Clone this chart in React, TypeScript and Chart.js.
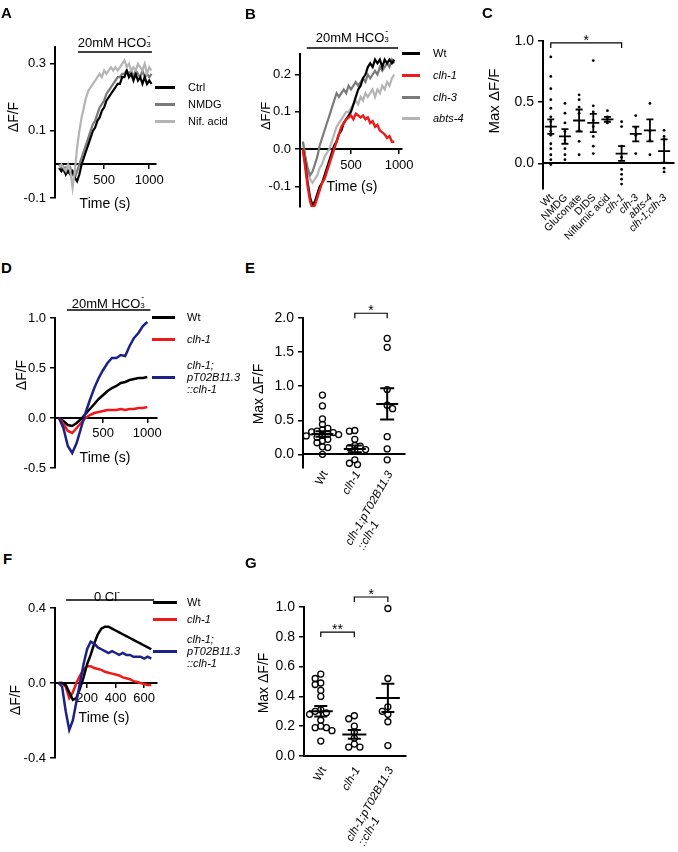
import React, { useEffect, useRef } from 'react';
import { Chart, registerables } from 'chart.js';

Chart.register(...registerables);

const FONT = '"Liberation Sans", Arial, Helvetica, sans-serif';
Chart.defaults.font.family = FONT;
Chart.defaults.color = '#000';

// ---------------- DATA ----------------
// Panel A
const aTime = [0,25,50,75,100,125,150,175,200,225,250,275,300,325,350,375,400,425,450,475,500,525,550,575,600,625,650,675,700,725,750,775,800,825,850,875,900,925,950,975,1000,1025];
const aCtrl = [-0.01,-0.02,-0.01,-0.03,-0.02,-0.03,-0.02,-0.04,-0.05,-0.03,0.0,0.02,0.04,0.06,0.08,0.10,0.11,0.13,0.14,0.16,0.17,0.19,0.20,0.21,0.22,0.23,0.24,0.24,0.26,0.26,0.28,0.26,0.27,0.25,0.27,0.25,0.26,0.24,0.26,0.24,0.25,0.24];
const aNmdg = [0.0,-0.01,-0.02,-0.01,-0.02,-0.01,-0.03,-0.04,-0.02,0.0,0.02,0.04,0.06,0.08,0.10,0.12,0.13,0.15,0.17,0.18,0.19,0.21,0.22,0.23,0.24,0.25,0.26,0.26,0.27,0.27,0.28,0.27,0.28,0.26,0.28,0.27,0.26,0.28,0.26,0.27,0.26,0.27];
const aNif = [-0.01,0.0,-0.01,-0.02,0.0,-0.02,-0.07,-0.02,0.05,0.10,0.14,0.17,0.20,0.22,0.23,0.24,0.25,0.26,0.27,0.26,0.28,0.27,0.28,0.29,0.28,0.29,0.28,0.29,0.30,0.31,0.29,0.30,0.28,0.29,0.28,0.30,0.29,0.28,0.30,0.27,0.29,0.28];
const aStim = [210, 1030];
const aYTicks = [-0.1, 0.1, 0.3];
const aXTicks = [500, 1000];

// Panel B
const bTime = [0,25,50,75,100,125,150,175,200,225,250,275,300,325,350,375,400,425,450,475,500,525,550,575,600,625,650,675,700,725,750,775,800,825,850,875,900,925,950];
const bWt = [0.0,-0.04,-0.09,-0.13,-0.15,-0.14,-0.12,-0.10,-0.09,-0.07,-0.05,-0.03,-0.01,0.01,0.02,0.04,0.05,0.07,0.08,0.09,0.10,0.12,0.14,0.16,0.17,0.19,0.20,0.22,0.23,0.22,0.24,0.23,0.24,0.22,0.24,0.23,0.24,0.23,0.24];
const bClh1 = [0.0,-0.05,-0.10,-0.14,-0.16,-0.15,-0.13,-0.11,-0.09,-0.08,-0.06,-0.04,-0.02,0.0,0.02,0.04,0.06,0.07,0.08,0.085,0.09,0.08,0.095,0.09,0.085,0.09,0.08,0.085,0.07,0.075,0.06,0.065,0.05,0.045,0.04,0.03,0.035,0.02,0.02];
const bClh3 = [0.02,-0.02,-0.05,-0.07,-0.06,-0.04,-0.02,0.01,0.03,0.05,0.07,0.09,0.11,0.13,0.15,0.14,0.15,0.16,0.15,0.17,0.16,0.17,0.18,0.17,0.18,0.19,0.18,0.20,0.19,0.20,0.21,0.20,0.22,0.21,0.22,0.23,0.22,0.24,0.23];
const bAbts4 = [0.02,-0.02,-0.06,-0.08,-0.09,-0.08,-0.07,-0.05,-0.04,-0.02,-0.01,0.0,0.02,0.04,0.06,0.07,0.08,0.09,0.10,0.10,0.11,0.12,0.13,0.12,0.14,0.13,0.15,0.14,0.15,0.16,0.14,0.16,0.15,0.17,0.16,0.18,0.17,0.19,0.20];
const bStim = [40, 990];
const bYTicks = [-0.1, 0.0, 0.1, 0.2];
const bXTicks = [500, 1000];

// Panel C
const cCategories = ['Wt', 'NMDG', 'Gluconate', 'DIDS', 'Niflumic acid', 'clh-1', 'clh-3', 'abts-4', 'clh-1;clh-3'];
const cItalic = [false, false, false, false, false, true, true, true, true];
const cWt = [0.87,0.71,0.61,0.52,0.45,0.38,0.34,0.30,0.26,0.23,0.16,0.12,0.07,0.03,-0.01];
const cNmdg = [0.49,0.41,0.33,0.26,0.19,0.12,0.07,0.03];
const cGluconate = [0.56,0.52,0.46,0.41,0.27,0.18,0.07];
const cDids = [0.84,0.47,0.42,0.35,0.30,0.22,0.14,0.08];
const cNiflumic = [0.43,0.38,0.36,0.33];
const cClh1 = [0.34,0.30,0.14,0.05,-0.05,-0.09,-0.13,-0.17];
const cClh3 = [0.39,0.29,0.23,0.08];
const cAbts4 = [0.49,0.26,0.19,0.07];
const cClh1Clh3 = [0.27,0.22,0.20,-0.04,-0.07];
const cMeans = [0.30,0.22,0.35,0.33,0.36,0.08,0.24,0.27,0.10];
const cSem = [0.06,0.06,0.09,0.075,0.02,0.06,0.06,0.09,0.095];
const cYTicks = [0.0, 0.5, 1.0];

// Panel D
const dTime = [0,50,100,150,200,250,300,350,400,450,500,550,600,650,700,750,800,850,900,950,1000];
const dWt = [0.0,-0.03,-0.07,-0.08,-0.05,-0.01,0.04,0.09,0.14,0.19,0.23,0.27,0.30,0.32,0.35,0.36,0.38,0.39,0.40,0.40,0.41];
const dClh1 = [0.0,-0.06,-0.13,-0.15,-0.10,-0.05,0.0,0.03,0.05,0.06,0.07,0.08,0.08,0.08,0.09,0.08,0.09,0.09,0.10,0.10,0.11];
const dRescue = [0.0,-0.10,-0.28,-0.35,-0.25,-0.10,0.05,0.18,0.30,0.40,0.48,0.55,0.60,0.60,0.63,0.62,0.72,0.80,0.85,0.92,0.96];
const dStim = [90, 1035];
const dYTicks = [-0.5, 0.0, 0.5, 1.0];
const dXTicks = [500, 1000];

// Panel E
const eCategories = [['Wt'], ['clh-1'], ['clh-1;pT02B11.3', '::clh-1']];
const eItalic = [false, true, true];
const eWt = [0.87,0.71,0.52,0.44,0.38,0.36,0.34,0.33,0.32,0.30,0.29,0.28,0.27,0.25,0.22,0.20,0.17,0.11,0.10,0.0];
const eClh1 = [0.35,0.34,0.22,0.13,0.12,0.10,0.07,0.05,-0.08,-0.13,-0.15];
const eRescue = [1.70,1.57,0.95,0.72,0.67,0.26,0.08,-0.08];
const eMeans = [0.30, 0.08, 0.74];
const eSem = [0.04, 0.05, 0.23];
const eYTicks = [0.0, 0.5, 1.0, 1.5, 2.0];

// Panel F
const fTime = [0,25,50,75,100,125,150,175,200,225,250,275,300,325,350,375,400,425,450,475,500,525,550,575,600,625,650];
const fWt = [0.0,0.0,-0.01,-0.05,-0.09,-0.08,-0.03,0.03,0.10,0.15,0.21,0.26,0.29,0.30,0.30,0.29,0.28,0.27,0.26,0.25,0.24,0.23,0.22,0.21,0.20,0.19,0.18];
const fClh1 = [0.0,0.0,-0.02,-0.08,-0.05,0.0,0.04,0.07,0.09,0.09,0.08,0.075,0.07,0.06,0.055,0.05,0.045,0.04,0.03,0.025,0.02,0.01,0.005,0.0,-0.005,-0.01,-0.01];
const fRescue = [0.0,-0.02,-0.15,-0.25,-0.20,-0.10,0.0,0.10,0.18,0.22,0.21,0.19,0.18,0.17,0.16,0.17,0.16,0.15,0.16,0.15,0.15,0.14,0.14,0.14,0.13,0.14,0.13];
const fStim = [53, 670];
const fYTicks = [-0.4, 0.0, 0.4];
const fXTicks = [200, 400, 600];

// Panel G
const gCategories = [['Wt'], ['clh-1'], ['clh-1;pT02B11.3', '::clh-1']];
const gItalic = [false, true, true];
const gWt = [0.55,0.52,0.49,0.48,0.44,0.40,0.31,0.30,0.29,0.28,0.24,0.20,0.19,0.19,0.17,0.10];
const gClh1 = [0.27,0.25,0.20,0.16,0.12,0.08,0.06,0.06];
const gRescue = [0.99,0.52,0.33,0.30,0.28,0.23,0.07];
const gMeans = [0.30, 0.145, 0.39];
const gSem = [0.035, 0.03, 0.095];
const gYTicks = [0.0, 0.2, 0.4, 0.6, 0.8, 1.0];

// ---------------- COLOURS ----------------
const BLACK = '#000000';
const RED = '#f01818';
const GRAY = '#7a7a7a';
const LGRAY = '#b4b4b4';
const BLUE = '#1c2188';

// ---------------- HELPERS ----------------
type Area = { l: number; t: number; r: number; b: number };
type Decor = {
  stim?: { range: number[]; dy: number };
  means?: { mean: number[]; sem: number[]; hw: number; cap: number; width: number };
  brackets?: { from: number; to: number; y: number; text: string; size: number }[];
  labels?: { items: string[][]; italic: boolean[]; angle: number; size: number; dx: number; dy: number; indent: number };
};
type Spec = {
  area: Area;
  xMin: number; xMax: number; yMin: number; yMax: number;
  xTicks?: number[]; yTicks: number[];
  padR: number; padB: number;
  tickSize: number;
  datasets: any[];
  decor: Decor;
};

const YW = 50;
const PT = 30;

function trace(times: number[], vals: number[], color: string, order: number, width = 2.2) {
  return {
    data: times.map((t, i) => ({ x: t, y: vals[i] })),
    showLine: true,
    borderColor: color,
    backgroundColor: color,
    borderWidth: width,
    pointRadius: 0,
    tension: 0,
    order,
  };
}

function swarm(vals: number[], pxY: number, pxX: number, diam: number): number[] {
  const order = vals.map((_, k) => k).sort((a, b) => vals[b] - vals[a]);
  const placed: { x: number; y: number }[] = [];
  const off = new Array(vals.length).fill(0);
  const step = diam / 2;
  order.forEach((k, n) => {
    const y = vals[k] * pxY;
    for (let j = 0; j < 60; j++) {
      const m = Math.ceil(j / 2) * (j % 2 === 1 ? 1 : -1) * (n % 2 ? -1 : 1);
      const x = m * step;
      if (placed.every((p) => Math.hypot(p.x - x, p.y - y) >= diam * 0.95)) {
        placed.push({ x, y });
        off[k] = x / pxX;
        break;
      }
    }
  });
  return off;
}

function dots(groups: number[][], area: Area, xMin: number, xMax: number, yMin: number, yMax: number, diam: number, style: any) {
  const pxY = (area.b - area.t) / (yMax - yMin);
  const pxX = (area.r - area.l) / (xMax - xMin);
  return groups.map((vals, i) => {
    const off = swarm(vals, pxY, pxX, diam);
    return { data: vals.map((v, k) => ({ x: i + off[k], y: v })), showLine: false, clip: false, ...style };
  });
}

function decorPlugin(d: Decor) {
  return {
    id: 'decor',
    afterDatasetsDraw(chart: any) {
      const ctx = chart.ctx;
      const xs = chart.scales.x;
      const ys = chart.scales.y;
      const ca = chart.chartArea;
      ctx.save();
      ctx.strokeStyle = '#000';
      ctx.fillStyle = '#000';
      if (d.stim) {
        const y = ca.top + d.stim.dy;
        ctx.lineWidth = 1.5;
        ctx.beginPath();
        ctx.moveTo(xs.getPixelForValue(d.stim.range[0]), y);
        ctx.lineTo(xs.getPixelForValue(d.stim.range[1]), y);
        ctx.stroke();
      }
      if (d.means) {
        const M = d.means;
        ctx.lineWidth = M.width;
        M.mean.forEach((m, i) => {
          const x = xs.getPixelForValue(i);
          const ym = ys.getPixelForValue(m);
          const y1 = ys.getPixelForValue(m + M.sem[i]);
          const y2 = ys.getPixelForValue(m - M.sem[i]);
          ctx.beginPath();
          ctx.moveTo(x - M.hw, ym); ctx.lineTo(x + M.hw, ym);
          ctx.moveTo(x, y1); ctx.lineTo(x, y2);
          ctx.moveTo(x - M.cap, y1); ctx.lineTo(x + M.cap, y1);
          ctx.moveTo(x - M.cap, y2); ctx.lineTo(x + M.cap, y2);
          ctx.stroke();
        });
      }
      if (d.brackets) {
        d.brackets.forEach((b) => {
          const x1 = xs.getPixelForValue(b.from);
          const x2 = xs.getPixelForValue(b.to);
          const y = ys.getPixelForValue(b.y);
          ctx.lineWidth = 1.2;
          ctx.beginPath();
          ctx.moveTo(x1, y + 5); ctx.lineTo(x1, y); ctx.lineTo(x2, y); ctx.lineTo(x2, y + 5);
          ctx.stroke();
          ctx.font = `${b.size}px ${FONT}`;
          ctx.textAlign = 'center';
          ctx.textBaseline = 'alphabetic';
          ctx.fillText(b.text, (x1 + x2) / 2, y + 2);
        });
      }
      if (d.labels) {
        const L = d.labels;
        L.items.forEach((lines, i) => {
          const x = xs.getPixelForValue(i) + L.dx;
          const y = ca.bottom + L.dy;
          ctx.save();
          ctx.translate(x, y);
          ctx.rotate((-L.angle * Math.PI) / 180);
          ctx.font = `${L.italic[i] ? 'italic ' : ''}${L.size}px ${FONT}`;
          ctx.textBaseline = 'middle';
          const w0 = ctx.measureText(lines[0]).width;
          lines.forEach((ln, k) => {
            if (k === 0) {
              ctx.textAlign = 'right';
              ctx.fillText(ln, 0, 0);
            } else {
              ctx.textAlign = 'left';
              ctx.fillText(ln, -w0 + L.indent, k * L.size * 1.15);
            }
          });
          ctx.restore();
        });
      }
      ctx.restore();
    },
  };
}

function buildConfig(s: Spec): any {
  const hasX = !!s.xTicks;
  return {
    type: 'scatter',
    data: { datasets: s.datasets },
    options: {
      responsive: false,
      maintainAspectRatio: false,
      animation: false,
      events: [],
      layout: { padding: { left: 0, top: PT, right: s.padR, bottom: s.padB } },
      plugins: { legend: { display: false }, tooltip: { enabled: false }, title: { display: false } },
      scales: {
        x: {
          type: 'linear',
          position: { y: 0 },
          min: s.xMin,
          max: s.xMax,
          afterBuildTicks: (ax: any) => {
            ax.ticks = (s.xTicks || [0]).map((v) => ({ value: v }));
          },
          ticks: {
            display: hasX,
            autoSkip: false,
            maxRotation: 0,
            minRotation: 0,
            padding: 4,
            color: '#000',
            font: { family: FONT, size: s.tickSize },
            callback: (v: any) => String(v),
          },
          grid: { display: hasX, drawOnChartArea: false, drawTicks: true, tickLength: 4, color: '#000', lineWidth: 1.5 },
          border: { display: true, color: '#000', width: 2 },
        },
        y: {
          type: 'linear',
          position: 'left',
          min: s.yMin,
          max: s.yMax,
          afterFit: (sc: any) => {
            sc.width = YW;
          },
          afterBuildTicks: (ax: any) => {
            ax.ticks = s.yTicks.map((v) => ({ value: v }));
          },
          ticks: {
            autoSkip: false,
            padding: 4,
            color: '#000',
            font: { family: FONT, size: s.tickSize },
            callback: (v: any) => Number(v).toFixed(1),
          },
          grid: { display: true, drawOnChartArea: false, drawTicks: true, tickLength: 5, color: '#000', lineWidth: 1.5 },
          border: { display: true, color: '#000', width: 2 },
        },
      },
    },
    plugins: [decorPlugin(s.decor)],
  };
}

// ---------------- PANEL SPECS ----------------
const areaA: Area = { l: 55, t: 47, r: 156, b: 198 };
const specA: Spec = {
  area: areaA, xMin: -45, xMax: 1075, yMin: -0.1, yMax: 0.35,
  xTicks: aXTicks, yTicks: aYTicks, padR: 25, padB: 25, tickSize: 13,
  datasets: [trace(aTime, aCtrl, BLACK, 1), trace(aTime, aNmdg, GRAY, 2), trace(aTime, aNif, LGRAY, 0)],
  decor: { stim: { range: aStim, dy: 5 } },
};

const areaB: Area = { l: 300, t: 54, r: 402, b: 207 };
const specB: Spec = {
  area: areaB, xMin: -30, xMax: 1030, yMin: -0.155, yMax: 0.255,
  xTicks: bXTicks, yTicks: bYTicks, padR: 25, padB: 20, tickSize: 13,
  datasets: [trace(bTime, bWt, BLACK, 1), trace(bTime, bClh1, RED, 0, 2.4), trace(bTime, bClh3, GRAY, 2), trace(bTime, bAbts4, LGRAY, 3)],
  decor: { stim: { range: bStim, dy: -6 } },
};

const areaC: Area = { l: 543, t: 41, r: 677, b: 189 };
const cX = [-0.55, 8.7];
const cY = [-0.21, 1.0];
const specC: Spec = {
  area: areaC, xMin: cX[0], xMax: cX[1], yMin: cY[0], yMax: cY[1],
  yTicks: cYTicks, padR: 1, padB: 80, tickSize: 14,
  datasets: dots([cWt, cNmdg, cGluconate, cDids, cNiflumic, cClh1, cClh3, cAbts4, cClh1Clh3], areaC, cX[0], cX[1], cY[0], cY[1], 2.2, {
    pointRadius: 1.4, pointBackgroundColor: '#000', pointBorderWidth: 0, borderColor: '#000',
  }),
  decor: {
    means: { mean: cMeans, sem: cSem, hw: 6, cap: 3.5, width: 1.8 },
    brackets: [{ from: 0, to: 5, y: 0.984, text: '*', size: 14 }],
    labels: { items: cCategories.map((c) => [c]), italic: cItalic, angle: 45, size: 10.5, dx: 1, dy: 7, indent: 0 },
  },
};

const areaD: Area = { l: 55, t: 318, r: 157, b: 468 };
const specD: Spec = {
  area: areaD, xMin: -45, xMax: 1110, yMin: -0.5, yMax: 1.0,
  xTicks: dXTicks, yTicks: dYTicks, padR: 25, padB: 20, tickSize: 13,
  datasets: [trace(dTime, dWt, BLACK, 2, 2.5), trace(dTime, dClh1, RED, 1, 2.5), trace(dTime, dRescue, BLUE, 0, 2.5)],
  decor: { stim: { range: dStim, dy: -8 } },
};

const areaE: Area = { l: 303, t: 318, r: 405, b: 468 };
const eX = [-0.6, 2.55];
const eY = [-0.2, 2.0];
const specE: Spec = {
  area: areaE, xMin: eX[0], xMax: eX[1], yMin: eY[0], yMax: eY[1],
  yTicks: eYTicks, padR: 20, padB: 95, tickSize: 14,
  datasets: dots([eWt, eClh1, eRescue], areaE, eX[0], eX[1], eY[0], eY[1], 5.4, {
    pointRadius: 3, pointBackgroundColor: 'rgba(0,0,0,0)', pointBorderColor: '#000', pointBorderWidth: 1.3, borderColor: '#000',
  }),
  decor: {
    means: { mean: eMeans, sem: eSem, hw: 11, cap: 7, width: 2 },
    brackets: [{ from: 1, to: 2, y: 2.07, text: '*', size: 14 }],
    labels: { items: eCategories, italic: eItalic, angle: 60, size: 11.5, dx: 3, dy: 4, indent: 2 },
  },
};

const areaF: Area = { l: 55, t: 608, r: 157, b: 758 };
const specF: Spec = {
  area: areaF, xMin: -25, xMax: 690, yMin: -0.4, yMax: 0.4,
  xTicks: fXTicks, yTicks: fYTicks, padR: 25, padB: 20, tickSize: 13,
  datasets: [trace(fTime, fWt, BLACK, 1, 2.5), trace(fTime, fClh1, RED, 2, 2.5), trace(fTime, fRescue, BLUE, 0, 2.5)],
  decor: { stim: { range: fStim, dy: -8 } },
};

const areaG: Area = { l: 304, t: 607, r: 406, b: 756 };
const gX = [-0.5, 2.54];
const gY = [0.0, 1.0];
const specG: Spec = {
  area: areaG, xMin: gX[0], xMax: gX[1], yMin: gY[0], yMax: gY[1],
  yTicks: gYTicks, padR: 20, padB: 94, tickSize: 14,
  datasets: dots([gWt, gClh1, gRescue], areaG, gX[0], gX[1], gY[0], gY[1], 5.6, {
    pointRadius: 3, pointBackgroundColor: 'rgba(0,0,0,0)', pointBorderColor: '#000', pointBorderWidth: 1.3, borderColor: '#000',
  }),
  decor: {
    means: { mean: gMeans, sem: gSem, hw: 12, cap: 6.5, width: 2 },
    brackets: [
      { from: 0, to: 1, y: 0.832, text: '**', size: 14 },
      { from: 1, to: 2, y: 1.067, text: '*', size: 14 },
    ],
    labels: { items: gCategories, italic: gItalic, angle: 60, size: 11.5, dx: 3, dy: 12, indent: 2 },
  },
};

const PANELS: Spec[] = [specA, specB, specC, specD, specE, specF, specG];

// ---------------- COMPONENTS ----------------
function PanelChart({ spec }: { spec: Spec }) {
  const ref = useRef<HTMLCanvasElement>(null);
  useEffect(() => {
    const chart = new Chart(ref.current as HTMLCanvasElement, buildConfig(spec));
    return () => chart.destroy();
  }, [spec]);
  const { area, padR, padB } = spec;
  const left = area.l - YW;
  const top = area.t - PT;
  const w = area.r - area.l + YW + padR;
  const h = area.b - area.t + PT + padB;
  return <canvas ref={ref} width={w} height={h} style={{ position: 'absolute', left, top, width: w, height: h }} />;
}

type TxtProps = { x: number; y: number; size?: number; align?: 'left' | 'center' | 'right'; bold?: boolean; italic?: boolean; children: any };
function Txt({ x, y, size = 12, align = 'left', bold = false, italic = false, children }: TxtProps) {
  const tx = align === 'center' ? '-50%' : align === 'right' ? '-100%' : '0';
  return (
    <div
      style={{
        position: 'absolute', left: x, top: y - size / 2, fontSize: size, lineHeight: `${size}px`,
        fontWeight: bold ? 700 : 400, fontStyle: italic ? 'italic' : 'normal', whiteSpace: 'nowrap',
        transform: `translateX(${tx})`, fontFamily: FONT, color: '#000',
      }}
    >
      {children}
    </div>
  );
}

function VTxt({ x, y, size = 14, children }: { x: number; y: number; size?: number; children: any }) {
  return (
    <div
      style={{
        position: 'absolute', left: x, top: y, fontSize: size, lineHeight: `${size}px`, whiteSpace: 'nowrap',
        transform: 'translate(-50%, -50%) rotate(-90deg)', fontFamily: FONT, color: '#000',
      }}
    >
      {children}
    </div>
  );
}

function LLine({ x1, x2, y, color }: { x1: number; x2: number; y: number; color: string }) {
  return <div style={{ position: 'absolute', left: x1, top: y - 1.5, width: x2 - x1, height: 3, background: color }} />;
}

function HCO3() {
  return (
    <span>
      20mM HCO
      <span style={{ display: 'inline-block', position: 'relative', width: 6, height: 10 }}>
        <span style={{ position: 'absolute', left: 0, top: 4, fontSize: 8, lineHeight: '8px' }}>3</span>
        <span style={{ position: 'absolute', left: 1, top: -5, fontSize: 9, lineHeight: '9px' }}>-</span>
      </span>
    </span>
  );
}

export default function App() {
  return (
    <div style={{ position: 'absolute', left: 0, top: 0, width: 678, height: 852, overflow: 'hidden', background: '#fff', fontFamily: FONT }}>
      {PANELS.map((s, i) => (
        <PanelChart key={i} spec={s} />
      ))}

      {/* panel letters */}
      <Txt x={1} y={12.5} size={15} bold>A</Txt>
      <Txt x={245} y={13.5} size={15} bold>B</Txt>
      <Txt x={482} y={12.5} size={15} bold>C</Txt>
      <Txt x={1} y={267.5} size={15} bold>D</Txt>
      <Txt x={245} y={267.5} size={15} bold>E</Txt>
      <Txt x={3} y={558.5} size={15} bold>F</Txt>
      <Txt x={245} y={562.5} size={15} bold>G</Txt>

      {/* titles */}
      <Txt x={115} y={42} size={13} align="center"><HCO3 /></Txt>
      <Txt x={353} y={37} size={13} align="center"><HCO3 /></Txt>
      <Txt x={109} y={303} size={13} align="center"><HCO3 /></Txt>
      <Txt x={107} y={592} size={13} align="center">
        <span>0 Cl<span style={{ fontSize: 9, verticalAlign: '6px' }}>-</span></span>
      </Txt>

      {/* axis titles */}
      <VTxt x={13} y={117}>ΔF/F</VTxt>
      <VTxt x={265} y={116} size={13}>ΔF/F</VTxt>
      <VTxt x={493} y={101} size={15}>Max ΔF/F</VTxt>
      <VTxt x={21} y={375}>ΔF/F</VTxt>
      <VTxt x={258} y={394}>Max ΔF/F</VTxt>
      <VTxt x={15} y={700}>ΔF/F</VTxt>
      <VTxt x={263} y={683}>Max ΔF/F</VTxt>
      <Txt x={105} y={203} size={14} align="center">Time (s)</Txt>
      <Txt x={352} y={186} size={14} align="center">Time (s)</Txt>
      <Txt x={105} y={457} size={14} align="center">Time (s)</Txt>
      <Txt x={104} y={717} size={14} align="center">Time (s)</Txt>

      {/* legend A */}
      <LLine x1={155} x2={175} y={87} color={BLACK} />
      <LLine x1={155} x2={175} y={104} color={GRAY} />
      <LLine x1={155} x2={175} y={121} color={LGRAY} />
      <Txt x={188} y={87} size={11}>Ctrl</Txt>
      <Txt x={188} y={104} size={11}>NMDG</Txt>
      <Txt x={188} y={121} size={11}>Nif. acid</Txt>

      {/* legend B */}
      <LLine x1={402} x2={420} y={53} color={BLACK} />
      <LLine x1={402} x2={420} y={75} color={RED} />
      <LLine x1={402} x2={420} y={97} color={GRAY} />
      <LLine x1={402} x2={420} y={118} color={LGRAY} />
      <Txt x={433} y={53} size={11}>Wt</Txt>
      <Txt x={433} y={75} size={11} italic>clh-1</Txt>
      <Txt x={433} y={97} size={11} italic>clh-3</Txt>
      <Txt x={433} y={118} size={11} italic>abts-4</Txt>

      {/* legend D */}
      <LLine x1={152} x2={175} y={317} color={BLACK} />
      <LLine x1={152} x2={175} y={339} color={RED} />
      <LLine x1={152} x2={175} y={377} color={BLUE} />
      <Txt x={187} y={317} size={11}>Wt</Txt>
      <Txt x={187} y={339} size={11} italic>clh-1</Txt>
      <Txt x={187} y={365} size={11} italic>clh-1;</Txt>
      <Txt x={187} y={377} size={11} italic>pT02B11.3</Txt>
      <Txt x={187} y={389} size={11} italic>::clh-1</Txt>

      {/* legend F */}
      <LLine x1={153} x2={177} y={602} color={BLACK} />
      <LLine x1={153} x2={177} y={619} color={RED} />
      <LLine x1={153} x2={177} y={651} color={BLUE} />
      <Txt x={187} y={602} size={11}>Wt</Txt>
      <Txt x={187} y={619} size={11} italic>clh-1</Txt>
      <Txt x={187} y={639} size={11} italic>clh-1;</Txt>
      <Txt x={187} y={651} size={11} italic>pT02B11.3</Txt>
      <Txt x={187} y={663} size={11} italic>::clh-1</Txt>
    </div>
  );
}
